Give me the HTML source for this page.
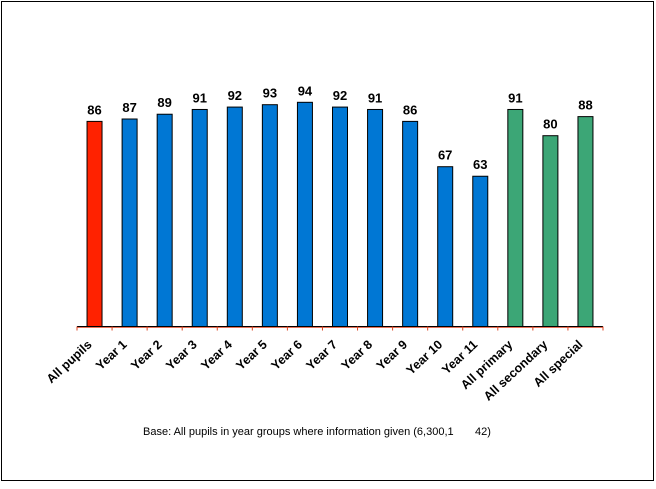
<!DOCTYPE html>
<html><head><style>
body{margin:0;background:#fff}
svg text{font-family:"Liberation Sans",Arial,sans-serif}
</style></head><body>
<svg width="656" height="484" viewBox="0 0 656 484">
<rect x="1.5" y="1.5" width="652" height="479" fill="#fff" stroke="#000" stroke-width="1"/>
<g id="bars"></g>
<text x="143" y="435" font-size="11" style="white-space:pre">Base: All pupils in year groups where information given (6,300,1       42)</text>
</svg>
<script>
const d=[["All pupils",86,"#ff2200"],["Year 1",87],["Year 2",89],["Year 3",91],["Year 4",92],["Year 5",93],["Year 6",94],["Year 7",92],["Year 8",91],["Year 9",86],["Year 10",67],["Year 11",63],["All primary",91,"#3ca676"],["All secondary",80,"#3ca676"],["All special",88,"#3ca676"]];
const x0=77,x1=603,base=326.5,sp=(x1-x0)/15,k=2.385;
let s='';
d.forEach((r,i)=>{const c=x0+sp*(i+0.5),h=r[1]*k,col=r[2]||"#0077d4";
s+=`<rect x="${c-7.5}" y="${base-h}" width="15" height="${h}" fill="${col}" stroke="#000" stroke-width="1"/>`;
s+=`<text x="${c}" y="${base-h-7}" font-size="13" font-weight="bold" text-anchor="middle">${r[1]}</text>`;
s+=`<text transform="translate(${c-2},${base+19}) rotate(-43)" font-size="12.5" font-weight="bold" text-anchor="end">${r[0]}</text>`;});
s+=`<line x1="${x0}" y1="${base+0.8}" x2="${x1}" y2="${base+0.8}" stroke="#d42" stroke-width="1"/>`;
s+=`<line x1="${x0}" y1="${base}" x2="${x1}" y2="${base}" stroke="#000" stroke-width="1"/>`;
for(let i=0;i<=15;i++){const x=x0+sp*i;s+=`<line x1="${x}" y1="${base}" x2="${x}" y2="${base+4}" stroke="#d42" stroke-width="1"/>`;}
document.getElementById('bars').innerHTML=s;
</script>
</body></html>
